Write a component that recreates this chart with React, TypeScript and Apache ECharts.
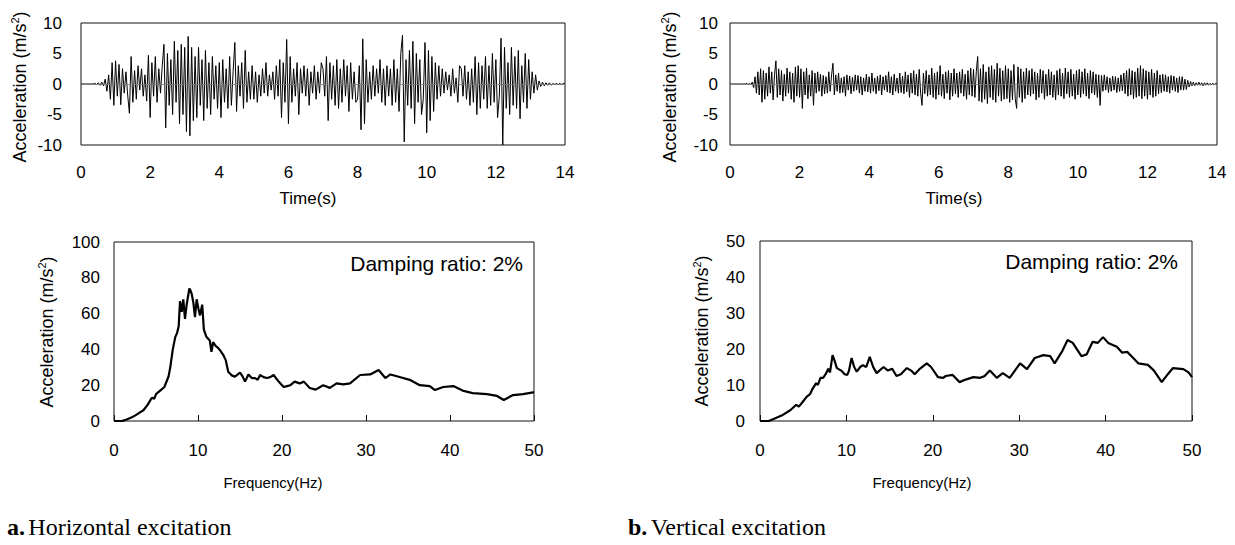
import React, { useEffect, useRef } from "react";
import * as echarts from "echarts";

// ---- Time histories (acceleration, m/s^2) ----
const H_DT = 0.05; // s, horizontal record step
const hAcc = [
  0, 0, 0, 0, 0, 0, 0, 0, 0.1, -0.1, 0.2, -0.2, 0.3, -0.3, 0.8, -1.2, 1.5, -2.5, 3.5, -3.5,
  3.8, -2.0, 3.2, -3.4, 2.5, -1.5, 2.0, -1.8, -4.8, 4.5, -3.0, 2.2, -2.5, 3.0, -1.0, 2.5, -2.0, 1.5, -2.8, 4.7,
  -5.5, 3.5, -2.0, 4.5, -3.0, 2.5, -1.5, 3.0, 6.5, -7.2, 5.0, -3.5, 4.0, -5.0, 7.0, -3.0, 5.5, -6.5, 6.5, -5.0,
  6.0, -7.8, 7.8, -8.5, 6.0, -6.0, 4.5, -5.5, 6.0, -3.5, 4.0, -6.0, 5.5, -4.0, 3.5, -5.0, 4.5, -2.5, 3.0, -4.0,
  3.5, -5.5, 4.0, -3.0, 2.5, -4.0, 4.5, -3.5, 2.0, 6.8, -4.5, 3.0, -2.0, 3.5, -4.0, 5.5, -3.0, 2.0, -2.5, 3.0,
  -2.5, 2.0, -3.0, 1.5, -2.0, 2.5, -1.5, 3.5, -2.0, 1.5, -1.0, 2.0, -2.5, 3.0, -2.0, 4.0, -5.5, 3.5, -3.0, 7.3,
  -6.5, 4.5, -3.0, 2.5, -2.0, 3.5, -5.0, 2.5, -1.5, 3.0, -2.0, 2.5, -3.5, 2.0, -1.5, 3.0, -2.5, 2.0, -1.5, 3.5,
  2.5, -2.0, 4.5, -6.0, 3.5, -2.5, 3.0, -3.5, 4.0, -4.0, 2.5, -3.0, 4.0, -2.0, 3.0, -4.5, 3.5, -2.5, 2.0, -3.0,
  -2.5, 3.0, -7.5, 7.4, -6.5, 4.0, -3.0, 2.0, -2.5, 3.0, -2.0, 2.5, -1.5, 4.0, -3.0, 2.5, -3.5, 3.0, -2.0, 2.5,
  -3.5, 4.0, -3.0, 2.5, -4.5, 5.0, 8.0, -9.5, 4.0, -3.5, 5.5, -4.0, 7.0, -6.5, 5.0, -3.0, 4.0, -5.0, -2.5, 6.8,
  -8.0, 5.5, -6.0, 4.5, -4.5, 3.5, -2.5, 3.0, -2.0, 2.5, -1.5, 2.0, -1.0, 1.5, -2.0, 2.5, -1.5, 1.0, -3.0, 3.0,
  2.5, -2.0, 3.0, -2.5, 2.0, -3.5, 2.5, -3.0, 4.5, -5.0, 3.5, -4.0, 3.0, -2.5, 4.5, -4.0, 3.0, -3.5, 5.0, -3.0,
  4.0, -5.5, -2.0, 7.5, -10.0, 6.0, -4.0, 3.5, -5.0, 6.0, -3.5, 4.5, -4.0, 5.5, -5.7, 3.0, -3.0, 5.0, -4.0, 4.0,
  -2.5, 2.0, -1.5, 1.5, -1.0, 0.5, -0.4, 0.3, -0.3, 0.2, -0.2, 0.2, -0.2, 0.1, -0.1, 0.1, -0.1, 0.1, -0.1, 0.1,
  0,
];

const V_DT = 0.04; // s, vertical record step
const vAcc = [
  0, 0, 0, 0, 0, 0, 0, 0, 0, 0, 0, 0, 0.1, -0.1, 0.1, -0.1, 0.3, -0.6, 1.2, -1.5, 2.0, -1.8, 2.5, -3.0, 2.2,
  -2.5, 1.8, -2.0, 2.8, -1.5, 2.0, -2.6, 1.5, 3.8, -2.2, 2.5, -1.8, 2.2, -2.8, 1.6, -2.0, 2.6, -1.5, 2.0, -2.5, 1.8, -3.0, 2.8, -2.0, 3.0,
  -2.2, 2.5, -4.0, 2.0, -1.8, 2.6, -2.4, 1.5, -2.0, 2.2, -3.5, 1.8, -1.5, 2.0, -1.2, 1.6, -2.0, 1.4, -1.6, 1.2, -1.5, 2.0, -1.2, 1.5, 3.4,
  -1.8, 1.5, -1.2, 1.8, -1.5, 1.0, -1.4, 1.2, -2.0, 1.5, -1.0, 1.3, -1.6, 1.1, -1.2, 1.5, -1.0, 1.4, -1.5, 1.2, -1.8, 1.0, -1.2, 1.6, -1.3,
  1.2, -1.5, 1.8, -1.2, 1.0, -1.6, 1.3, -1.1, 1.5, -1.8, 1.2, -1.0, 1.4, -1.3, 2.0, -1.5, 1.2, -1.8, 1.6, -1.2, 1.0, -1.5, 1.8, -1.4, 1.3,
  -1.6, 2.0, -1.3, 1.5, -2.2, 1.8, -1.5, 2.2, -1.8, 1.6, -2.0, 2.4, -1.5, -3.5, 1.8, -1.6, 2.2, -2.0, 1.5, -1.8, 2.6, -2.2, 1.8, -2.5, 2.0,
  -1.8, 3.0, -2.0, 1.6, -2.4, 2.0, -1.5, 2.2, -2.6, 1.8, -2.0, 2.5, -1.6, 1.8, -2.2, 2.0, -1.5, 2.4, -2.0, 1.6, -2.5, 2.2, -1.8, 2.6, -2.0,
  2.4, -2.2, 2.0, 4.5, -2.8, 2.5, -3.0, 3.2, -2.5, 2.0, -3.2, 2.8, -2.2, 3.0, -2.6, 2.4, -3.0, 3.4, -2.0, 2.6, -2.8, 2.2, -2.5, 3.0, -2.4,
  2.5, -3.0, 2.2, -2.6, 3.2, -2.4, -4.0, 2.8, -2.2, 2.5, -3.0, 2.0, -2.4, 2.6, -1.8, 2.2, -2.0, 2.5, -1.6, 2.0, -2.6, 1.8, -2.2, 2.4, -1.5,
  2.2, -2.5, 1.6, -2.0, 2.4, -1.8, 2.0, -2.2, 1.5, -2.6, 2.2, -1.8, 2.5, -2.0, 1.8, -2.4, 2.6, -1.6, 2.0, -2.2, 2.4, -2.0, 1.6, -2.5, 2.2,
  -1.8, 2.4, -2.2, 2.0, -1.6, 2.5, -2.0, 1.8, -2.4, 2.2, -1.5, 2.0, -1.8, 1.6, -2.2, 1.5, -3.5, 1.4, -1.2, 1.5, -1.0, 1.2, -1.4, 1.0, -1.2,
  1.3, -1.0, 1.2, -1.4, 1.0, -1.2, 1.5, -1.1, 1.8, -1.6, 2.2, -2.0, 2.5, -1.8, 2.2, -2.4, 2.0, -2.2, 2.6, -2.0, 3.0, -2.4, 2.5, -2.0, 2.2,
  -2.5, 2.0, -1.8, 2.4, -2.2, 1.8, -2.0, 2.2, -1.6, 1.5, -1.4, 1.6, -1.2, 1.5, -1.3, 1.2, -1.5, 1.4, -1.0, 1.3, -1.2, 1.0, -1.4, 1.2, -1.0,
  1.2, -1.0, 0.8, -0.9, 0.6, -0.5, 0.4, -0.3, 0.3, -0.3, 0.2, -0.2, 0.3, -0.2, 0.2, -0.3, 0.2, -0.2, 0.2, -0.2, 0.1, -0.1, 0.1, -0.1, 0.1,
  0,
];

// ---- Response spectra (damping 2%) ----
const hFreq = [
  0, 1, 1.5, 2, 2.5, 3, 3.5, 4, 4.5, 4.8, 5, 5.5, 6, 6.5, 6.7, 7, 7.3, 7.5, 7.7, 7.86,
  8.06, 8.25, 8.45, 8.65, 8.97, 9.1, 9.25, 9.45, 9.64, 9.84, 10.04, 10.24, 10.5, 10.7, 11.0, 11.4, 11.6, 11.8, 12.1, 12.4,
  12.7, 13.0, 13.3, 13.6, 14.0, 14.4, 15.0, 15.3, 15.6, 16.0, 16.4, 16.8, 17.1, 17.4, 17.8, 18.2, 18.6, 19.0, 19.6, 20.2,
  20.6, 21.0, 21.5, 22.1, 22.6, 23.3, 24.0, 24.9, 25.7, 26.5, 27.3, 28.1, 29.3, 30.5, 31.5, 32.3, 32.9, 34.0, 35.2, 36.4,
  37.6, 38.2, 39.2, 40.4, 41.5, 42.7, 44.4, 45.6, 46.4, 47.5, 48.7, 49.9, 50,
];
const hSa = [
  0, 0.1, 0.8, 1.8, 3, 4.5, 6, 9, 13, 12.5, 15, 17, 19, 25, 30, 40, 47, 49, 53, 67,
  61, 68, 57, 65, 74, 73, 71, 66, 58, 68, 63, 59, 65, 51, 47, 45, 38.7, 44, 42, 40.8,
  39, 37, 34, 27.5, 25.5, 24.8, 27, 25, 22, 26, 24, 24, 23, 25.7, 24.5, 24, 24.5, 25.7, 22, 19,
  19.5, 20, 22, 21, 22, 18.4, 17.5, 20, 18.5, 21, 20.5, 21, 25.7, 26, 28.5, 24, 26, 24.6, 23, 20,
  19.5, 17.3, 19, 19.5, 17, 15.6, 15, 14, 11.7, 14.5, 15, 16, 16,
];

const vFreq = [
  0, 1, 1.5, 2.5, 3.5, 4.2, 4.5, 5.0, 5.4, 5.8, 6.1, 6.5, 6.7, 7.0, 7.3, 7.6, 7.9, 8.1, 8.4, 8.6,
  8.9, 9.4, 9.8, 10.1, 10.3, 10.6, 10.9, 11.2, 11.6, 11.9, 12.3, 12.7, 13.1, 13.5, 14.3, 14.8, 15.3, 15.8, 16.3, 17.0,
  17.5, 17.9, 18.5, 19.3, 19.8, 20.6, 21.2, 21.5, 22.3, 23.1, 23.8, 24.7, 25.5, 26.0, 26.6, 27.4, 28.1, 28.9, 29.5, 30.1,
  30.9, 31.8, 32.8, 33.6, 34.1, 35.0, 35.6, 36.2, 37.2, 37.8, 38.5, 39.1, 39.7, 40.3, 41.3, 41.9, 42.5, 43.2, 43.8, 44.9,
  45.6, 46.5, 47.2, 47.8, 49.0, 49.6, 50,
];
const vSa = [
  0, 0, 0.5, 1.5, 3, 4.5, 4, 5.5, 6.7, 7.5, 9, 10.5, 10, 12, 12, 13, 14.5, 13.5, 18.3, 17,
  14.7, 14, 13, 12.8, 14, 17.5, 15, 13.7, 15, 15.5, 15, 17.8, 15, 13.3, 15, 14, 14.5, 12.5, 13, 14.7,
  14, 13, 14.5, 16, 15, 12.2, 12, 12.5, 12.8, 10.8, 11.5, 12.2, 12, 12.5, 14, 12, 13.3, 12, 14, 16,
  14.4, 17.5, 18.3, 18, 16, 19.5, 22.5, 21.7, 18, 18.5, 22, 21.7, 23.3, 21.7, 20.6, 19, 19.2, 17.5, 16, 15.6,
  14, 10.8, 13, 14.7, 14.4, 13.5, 12.2,
];

// ---- Axis ticks / texts ----
const timeTicks = { min: 0, max: 14, interval: 2 };
const accTicks = { min: -10, max: 10, interval: 5 };
const freqTicks = { min: 0, max: 50, interval: 10 };
const hSaTicks = { min: 0, max: 100, interval: 20 };
const vSaTicks = { min: 0, max: 50, interval: 10 };
const yTitle = "{a|Acceleration (m/s}{s|2}{a|)}";
const dampingText = "Damping ratio: 2%";

const SANS = '"Liberation Sans", Arial, sans-serif';
const SERIF = '"Liberation Serif", "Times New Roman", serif';

export default function App() {
  const ref = useRef<HTMLDivElement>(null);

  useEffect(() => {
    if (!ref.current) return;
    const chart = echarts.init(ref.current, undefined, { renderer: "svg" });

    const grids = [
      { left: 81, top: 23, width: 484, height: 122 },
      { left: 730, top: 23, width: 487, height: 122 },
      { left: 114, top: 242, width: 420, height: 179 },
      { left: 760, top: 241, width: 432, height: 180 },
    ].map((g) => ({ ...g, show: true, borderColor: "#111", borderWidth: 1, backgroundColor: "transparent" }));

    const lbl = (margin: number) => ({ fontSize: 17, color: "#000", fontFamily: SANS, margin });

    const timeX = (gi: number) => ({
      gridIndex: gi, type: "value", ...timeTicks,
      axisLine: { show: false }, axisTick: { show: false }, splitLine: { show: false },
      axisLabel: lbl(19),
    });
    const freqX = (gi: number) => ({
      gridIndex: gi, type: "value", ...freqTicks,
      axisLine: { show: false },
      axisTick: { show: true, inside: true, length: 6, lineStyle: { color: "#111" } },
      splitLine: { show: false },
      axisLabel: lbl(21),
    });
    const yAx = (gi: number, ticks: any, margin: number) => ({
      gridIndex: gi, type: "value", ...ticks,
      axisLine: { show: false }, axisTick: { show: false }, splitLine: { show: false },
      axisLabel: lbl(margin),
    });

    const zeroLine = {
      silent: true, symbol: "none", label: { show: false },
      lineStyle: { color: "#777", width: 0.8, type: "solid" },
      data: [{ yAxis: 0 }],
    };

    const titleRich = {
      a: { fontSize: 18, fontFamily: SANS, fill: "#000", lineHeight: 22 },
      s: { fontSize: 11, fontFamily: SANS, fill: "#000", verticalAlign: "top", lineHeight: 22 },
    };
    const yTitleEl = (x: number, y: number) => ({
      type: "text", x, y, rotation: Math.PI / 2,
      style: { text: yTitle, rich: titleRich, align: "center", verticalAlign: "middle", fill: "#000" },
    });
    const txt = (x: number, y: number, text: string, size: number, align = "center") => ({
      type: "text", x, y,
      style: { text, fontSize: size, fontFamily: SANS, fill: "#000", align, verticalAlign: "middle" },
    });
    const caption = (x: number, y: number, letter: string, rest: string) => ({
      type: "text", x, y,
      style: {
        text: `{b|${letter}} {n|${rest}}`,
        rich: {
          b: { fontSize: 24, fontFamily: SERIF, fontWeight: "bold", fill: "#000" },
          n: { fontSize: 24, fontFamily: SERIF, fill: "#000" },
        },
        align: "left", verticalAlign: "middle",
      },
    });

    chart.setOption({
      animation: false,
      backgroundColor: "#fff",
      grid: grids,
      xAxis: [timeX(0), timeX(1), freqX(2), freqX(3)],
      yAxis: [yAx(0, accTicks, 19), yAx(1, accTicks, 12), yAx(2, hSaTicks, 14), yAx(3, vSaTicks, 15)],
      series: [
        {
          type: "line", xAxisIndex: 0, yAxisIndex: 0, showSymbol: false, sampling: undefined,
          data: hAcc.map((v, i) => [i * H_DT, v]),
          lineStyle: { color: "#000", width: 1 }, markLine: zeroLine,
        },
        {
          type: "line", xAxisIndex: 1, yAxisIndex: 1, showSymbol: false,
          data: vAcc.map((v, i) => [i * V_DT, v]),
          lineStyle: { color: "#000", width: 1 }, markLine: zeroLine,
        },
        {
          type: "line", xAxisIndex: 2, yAxisIndex: 2, showSymbol: false,
          data: hFreq.map((f, i) => [f, hSa[i]]),
          lineStyle: { color: "#000", width: 2.2 },
        },
        {
          type: "line", xAxisIndex: 3, yAxisIndex: 3, showSymbol: false,
          data: vFreq.map((f, i) => [f, vSa[i]]),
          lineStyle: { color: "#000", width: 2.2 },
        },
      ],
      graphic: [
        yTitleEl(20, 87),
        yTitleEl(670, 87),
        yTitleEl(47, 332),
        yTitleEl(702, 331),
        txt(308, 198, "Time(s)", 17),
        txt(954, 198, "Time(s)", 17),
        txt(273, 482, "Frequency(Hz)", 15),
        txt(922, 482, "Frequency(Hz)", 15),
        txt(523, 263, dampingText, 21, "right"),
        txt(1178, 261, dampingText, 21, "right"),
        caption(7, 527, "a.", "Horizontal excitation"),
        caption(628, 527, "b.", "Vertical excitation"),
      ],
    });

    return () => chart.dispose();
  }, []);

  return (
    <div
      ref={ref}
      style={{ position: "fixed", left: 0, top: 0, width: 1235, height: 545, background: "#fff" }}
    />
  );
}
